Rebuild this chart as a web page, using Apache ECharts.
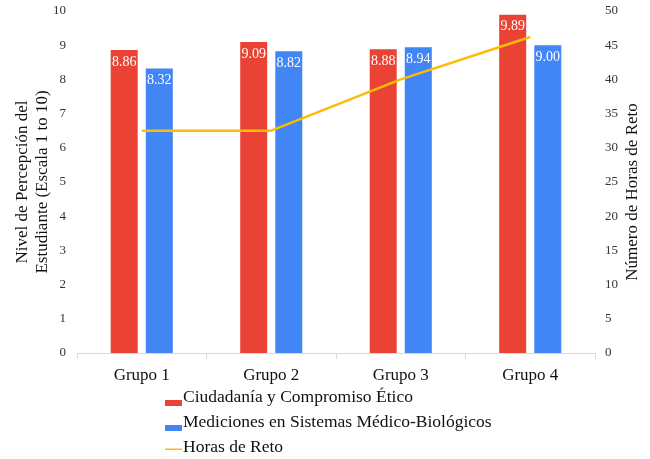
<!DOCTYPE html>
<html>
<head>
<meta charset="utf-8">
<script src="https://cdn.jsdelivr.net/npm/echarts@6/dist/echarts.min.js"></script>
<style>
  html, body { margin: 0; padding: 0; background: #ffffff; }
  #chart { width: 650px; height: 459px; }
</style>
</head>
<body>
<div id="chart"></div>
<script>
// Groups along the horizontal axis
const grupos = ['Grupo 1', 'Grupo 2', 'Grupo 3', 'Grupo 4'];
// Student perception scores (scale 1 to 10)
const ciudadania = [8.86, 9.09, 8.88, 9.89];
const mediciones = [8.32, 8.82, 8.94, 9.00];
// Challenge hours per group (right axis)
const horasReto = [32.5, 32.5, 40, 46.2];

const serif = "'Times New Roman', 'Liberation Serif', 'DejaVu Serif', serif";

const chart = echarts.init(document.getElementById('chart'), null, { renderer: 'canvas' });

const barLabel = {
  show: true,
  position: 'insideTop',
  distance: 5,
  color: '#ffffff',
  fontFamily: serif,
  fontSize: 14,
  formatter: p => p.value.toFixed(2)
};

// Legend swatches sit at the bottom of each text row
const swatch = 'path://M0,0 M0,13 L17,13 L17,19 L0,19 Z M0,20';
const lineSwatch = 'path://M0,0 M0,11.5 L17,11.5 L17,13 L0,13 Z M0,20';

chart.setOption({
  animation: false,
  textStyle: { fontFamily: serif },
  grid: { left: 77, right: 55, top: 11, bottom: 106, containLabel: false, outerBoundsMode: 'none' },
  legend: {
    orient: 'vertical',
    left: 165,
    top: 387,
    padding: 0,
    itemWidth: 17,
    itemHeight: 20,
    itemGap: 5,
    textStyle: { fontFamily: serif, fontSize: 17.5, lineHeight: 20, color: '#111111', padding: [0, 0, 0, -4] },
    data: [
      { name: 'Ciudadanía y Compromiso Ético', icon: swatch },
      { name: 'Mediciones en Sistemas Médico-Biológicos', icon: swatch },
      { name: 'Horas de Reto', icon: lineSwatch }
    ]
  },
  xAxis: {
    type: 'category',
    data: grupos,
    axisLine: { show: true, lineStyle: { color: '#d9d9d9', width: 1 } },
    axisTick: { show: true, alignWithLabel: false, length: 6, lineStyle: { color: '#d9d9d9' } },
    axisLabel: { color: '#111111', fontFamily: serif, fontSize: 17, margin: 14 }
  },
  yAxis: [
    {
      type: 'value',
      min: 0, max: 10, interval: 1,
      name: 'Nivel de Percepción del\nEstudiante (Escala 1 to 10)',
      nameLocation: 'middle',
      nameGap: 24,
      nameMoveOverlap: false,
      nameTextStyle: { fontFamily: serif, fontSize: 17, color: '#111111', lineHeight: 20 },
      axisLine: { show: false },
      axisTick: { show: false },
      splitLine: { show: false },
      axisLabel: { color: '#333333', fontFamily: serif, fontSize: 13, margin: 11 }
    },
    {
      type: 'value',
      min: 0, max: 50, interval: 5,
      name: 'Número de Horas de Reto',
      nameLocation: 'middle',
      nameGap: 29,
      nameMoveOverlap: false,
      nameTextStyle: { fontFamily: serif, fontSize: 17, color: '#111111', padding: [0, 20, 0, 0] },
      axisLine: { show: false },
      axisTick: { show: false },
      splitLine: { show: false },
      axisLabel: { color: '#333333', fontFamily: serif, fontSize: 13, margin: 10 }
    }
  ],
  series: [
    {
      name: 'Ciudadanía y Compromiso Ético',
      type: 'bar',
      data: ciudadania,
      barWidth: 27,
      barGap: '30%',
      itemStyle: { color: '#EA4335' },
      label: barLabel
    },
    {
      name: 'Mediciones en Sistemas Médico-Biológicos',
      type: 'bar',
      data: mediciones,
      barWidth: 27,
      barGap: '30%',
      itemStyle: { color: '#4285F4' },
      label: barLabel
    },
    {
      name: 'Horas de Reto',
      type: 'line',
      yAxisIndex: 1,
      data: horasReto,
      symbol: 'none',
      lineStyle: { color: '#FBBC04', width: 2.5 },
      itemStyle: { color: '#FBBC04' }
    }
  ]
});
</script>
</body>
</html>
